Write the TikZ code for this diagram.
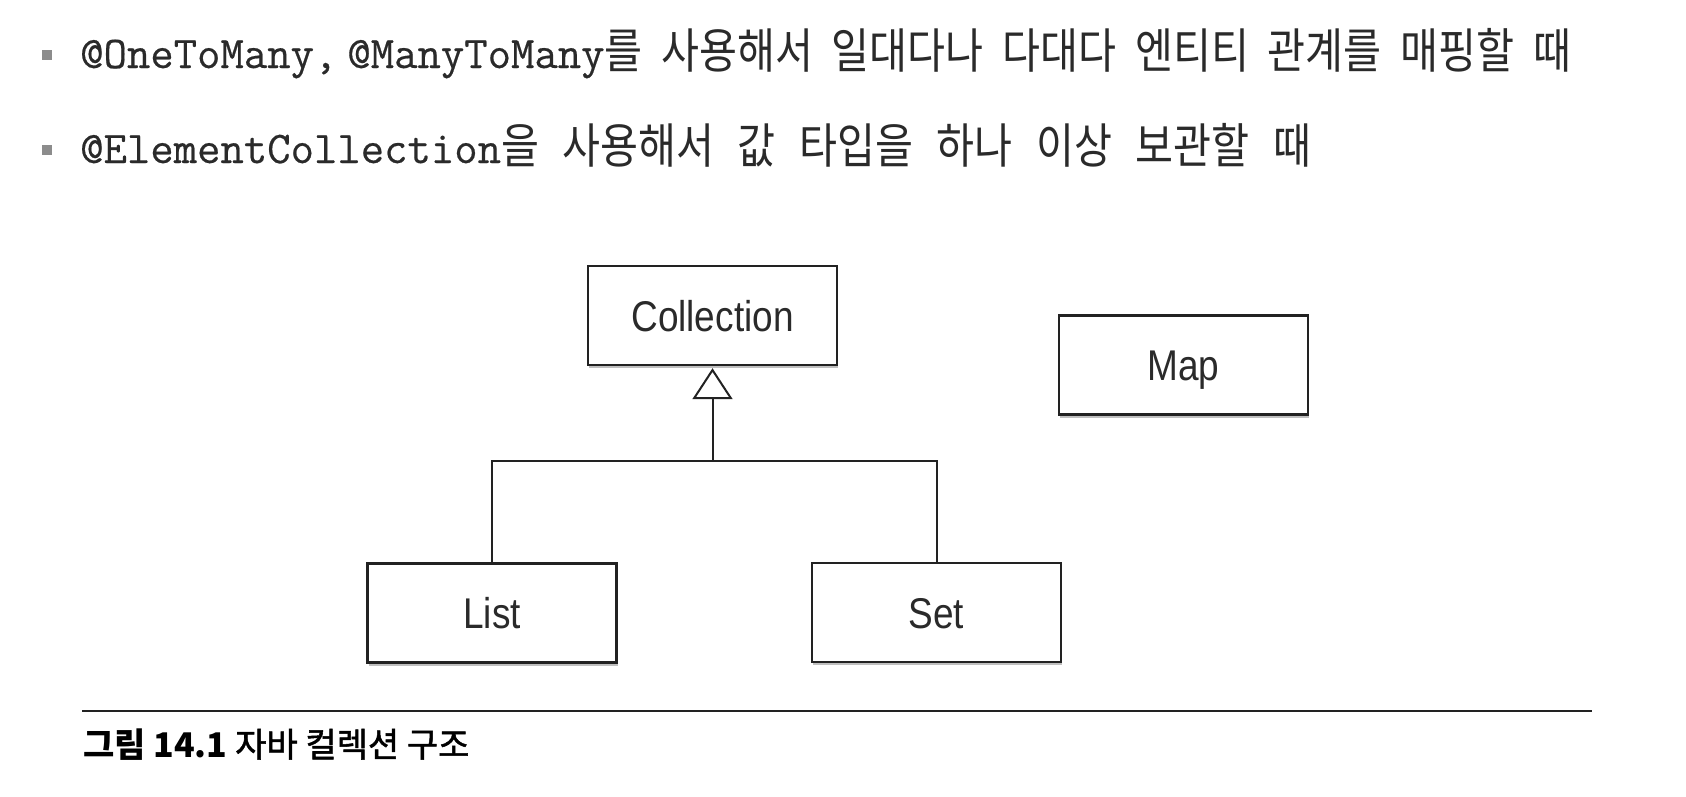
\documentclass[tikz,border=0pt]{standalone}
\usepackage{fontspec}
\setmainfont{Noto Sans CJK KR}
\newfontfamily\monofont{Latin Modern Mono}[FakeBold=0.4]
\newfontfamily\krfont{Noto Sans CJK KR}[FakeStretch=0.86]
\newfontfamily\capfont{Noto Sans CJK KR}
\newfontfamily\capmid{Noto Sans CJK KR}[FakeBold=1.5]
\newfontfamily\lblfont{Liberation Sans}[FakeStretch=0.86]
\usetikzlibrary{arrows.meta,shadows}
\definecolor{ink}{HTML}{222222}
\definecolor{txt}{HTML}{2A2A2A}
\definecolor{bulletgray}{HTML}{8C8C8C}
\begin{document}
\begin{tikzpicture}[x=1pt,y=-1pt,
  box/.style={draw=ink, line width=2.4pt, fill=white, minimum width=249pt, minimum height=99pt,
    inner sep=0pt, font=\lblfont\fontsize{43}{43}\selectfont, text=txt, text height=31pt, text depth=0pt,
    drop shadow={shadow xshift=1pt, shadow yshift=-3pt, fill=black, opacity=0.25}},
  conn/.style={draw=ink, line width=2pt},
  bul/.style={fill=bulletgray, minimum size=10pt, inner sep=0pt},
  textline/.style={anchor=base west, inner sep=0pt, text=txt},
]
\useasboundingbox (0,0) rectangle (1686,796);
\fill[white] (0,0) rectangle (1686,796);

% bullet lines
\node[bul] (b1) at (47,55) {};
\node[bul] (b2) at (47,150) {};
\node[textline] (t1) at (80,68) {\makebox[1491pt][s]{\mbox{\monofont\fontsize{45.4}{45.4}\selectfont @OneToMany,\hspace{10pt}@ManyToMany}{\krfont\fontsize{48}{48}\selectfont 를 사용해서 일대다나 다대다 엔티티 관계를 매핑할 때}}};
\node[textline] (t2) at (80,163) {\makebox[1231pt][s]{\mbox{\monofont\fontsize{45.4}{45.4}\selectfont @ElementCollection}{\krfont\fontsize{48}{48}\selectfont 을 사용해서 값 타입을 하나 이상 보관할 때}}};

% diagram
\node[box] (coll) at (712.5,315.5) {Collection};
\node[box] (list) at (492,613) {List};
\node[box] (set) at (936.5,612.5) {Set};
\node[box] (map) at (1183.5,365) {Map};
\coordinate (J) at (712.5,461);
\draw[conn] (list.north) |- (J) -| (set.north);
\draw[conn, shorten >=2pt, -{Triangle[open, length=31pt, width=40pt]}] (J) -- (coll.south);

% caption rule and caption
\coordinate (r1) at (82,711);
\coordinate (r2) at (1592,711);
\draw[draw=ink, line width=2pt] (r1) -- (r2);
\node[textline, text=black] (cap) at (83,757) {\fontsize{34}{34}\selectfont{\capfont\bfseries 그림 14.1} \capmid 자바 컬렉션 구조};
\end{tikzpicture}
\end{document}
